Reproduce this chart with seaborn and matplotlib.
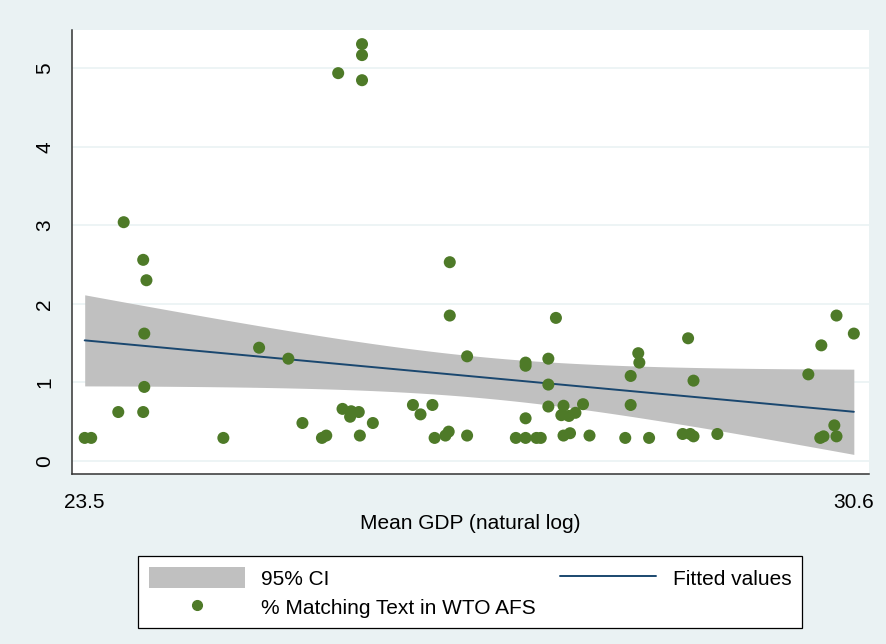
import numpy as np
import pandas as pd
import seaborn as sns
import matplotlib.pyplot as plt
from matplotlib.patches import Patch
from matplotlib.lines import Line2D

# === Data ===
gdp_log = [23.50, 23.56, 23.86, 24.04, 24.07, 24.05, 24.05, 23.81, 24.04, 24.78,
           25.11, 25.38, 25.51, 25.69, 25.73, 25.84, 26.06, 26.06, 26.06, 25.88,
           25.95, 25.96, 26.03, 26.04, 26.16, 26.53, 26.60, 26.71, 26.73, 26.83,
           26.86, 26.87, 26.87, 27.03, 27.03, 27.48, 27.57, 27.67, 27.71, 27.57,
           27.57, 27.57, 27.78, 27.78, 27.78, 27.85, 27.92, 27.90, 27.97, 28.03,
           28.10, 27.92, 27.98, 28.16, 28.49, 28.54, 28.54, 28.61, 28.62, 28.71,
           29.02, 29.09, 29.12, 29.07, 29.12, 29.34, 30.18, 30.30, 30.44, 30.60,
           30.42, 30.29, 30.32, 30.44]
match_pct = [0.29, 0.29, 3.04, 2.56, 2.30, 1.62, 0.94, 0.62, 0.62, 0.29,
             1.44, 1.30, 0.48, 0.29, 0.32, 4.94, 5.31, 5.17, 4.85, 0.66,
             0.56, 0.63, 0.62, 0.32, 0.48, 0.71, 0.59, 0.71, 0.29, 0.32,
             0.37, 2.53, 1.85, 1.33, 0.32, 0.29, 0.29, 0.29, 0.29, 0.54,
             1.25, 1.21, 1.30, 0.97, 0.69, 1.82, 0.70, 0.58, 0.57, 0.61,
             0.72, 0.32, 0.35, 0.32, 0.29, 1.08, 0.71, 1.37, 1.25, 0.29,
             0.34, 0.34, 0.31, 1.56, 1.02, 0.34, 1.10, 1.47, 1.85, 1.62,
             0.45, 0.29, 0.31, 0.31]

x_ticks = [23.5, 30.6]
y_ticks = [0, 1, 2, 3, 4, 5]
x_label = "Mean GDP (natural log)"
labels = ["95% CI", "% Matching Text in WTO AFS", "Fitted values"]

df = pd.DataFrame({"gdp": gdp_log, "match": match_pct})

# === Linear fit with 95% CI of the mean (Stata lfitci style) ===
X = np.column_stack([np.ones(len(df)), df["gdp"]])
beta = np.linalg.lstsq(X, df["match"].to_numpy(), rcond=None)[0]
resid = df["match"].to_numpy() - X @ beta
s2 = resid @ resid / (len(df) - 2)
cov = s2 * np.linalg.inv(X.T @ X)
grid = np.linspace(df["gdp"].min(), df["gdp"].max(), 100)
G = np.column_stack([np.ones_like(grid), grid])
fit = G @ beta
se = np.sqrt(np.einsum("ij,jk,ik->i", G, cov, G))
t_crit = 1.99
fit_df = pd.DataFrame({"gdp": grid, "fit": fit})

# === Colours ===
bg = "#eaf2f3"
green = "#4e7a28"
navy = "#1a476f"
ci_grey = "#c0c0c0"

sns.set_style("white")
plt.rcParams["font.family"] = ["Liberation Sans Narrow", "Liberation Sans", "DejaVu Sans"]
plt.rcParams["text.color"] = "black"

fig = plt.figure(figsize=(8.87, 6.44), dpi=100, facecolor=bg)
ax = fig.add_axes([71.7 / 887, 1 - 474 / 644, (869 - 71.7) / 887, (474 - 30) / 644])
ax.set_facecolor("white")

ax.fill_between(grid, fit - t_crit * se, fit + t_crit * se, color=ci_grey, lw=0, zorder=2)
sns.lineplot(data=fit_df, x="gdp", y="fit", color=navy, lw=1.4, ax=ax, zorder=3)
sns.scatterplot(data=df, x="gdp", y="match", color=green, s=75, edgecolor="none",
                ax=ax, zorder=4)

ax.set_xlim(23.38, 30.74)
ax.set_ylim(-0.17, 5.49)
ax.set_xticks(x_ticks)
ax.set_xticklabels([str(v) for v in x_ticks])
ax.set_yticks(y_ticks)
ax.set_yticklabels([str(v) for v in y_ticks], rotation=90, va="center")
ax.grid(axis="y", color=bg, lw=1.2, zorder=0)
ax.set_axisbelow(True)
ax.tick_params(axis="both", width=1, colors="#333333", labelsize=15,
               direction="out", labelcolor="black")
ax.tick_params(axis="y", length=7, pad=5.5)
ax.tick_params(axis="x", length=6, pad=8)
ax.set_xlabel(x_label, fontsize=15, labelpad=1, color="black")
ax.set_ylabel("")
for side in ["top", "right"]:
    ax.spines[side].set_visible(False)
for side in ["left", "bottom"]:
    ax.spines[side].set_color("#333333")
    ax.spines[side].set_linewidth(1.1)

handles = [Patch(facecolor=ci_grey, edgecolor="none"),
           Line2D([], [], marker="o", ls="none", color=green, markersize=7),
           Line2D([], [], color=navy, lw=1.4)]
leg = fig.legend(handles, labels, loc="upper left", ncol=2, mode="expand",
                 bbox_to_anchor=(128 / 887, 1 - 546 / 644, 684 / 887, 0.0),
                 fontsize=15, frameon=True, fancybox=False, edgecolor="black",
                 facecolor="white", framealpha=1.0,
                 handlelength=4.6, handleheight=1.2, handletextpad=0.8,
                 labelspacing=0.35, borderpad=0.5)
leg.get_frame().set_linewidth(0.9)

fig.savefig("out.png", dpi=100, facecolor=bg)
